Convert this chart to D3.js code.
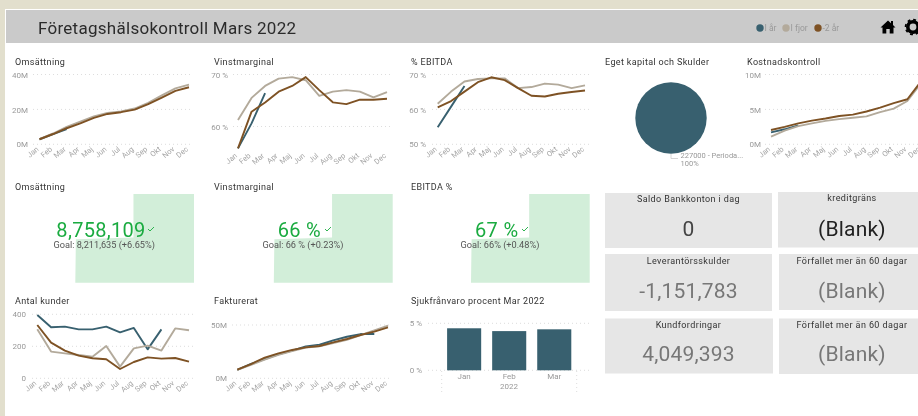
<!DOCTYPE html>
<html>
<head>
<meta charset="utf-8">
<script src="https://d3js.org/d3.v7.min.js"></script>
<style>
    html, body { margin: 0; padding: 0; background: #e2dfcd; overflow: hidden; }
    svg { display: block; filter: blur(0.35px); }
    text { font-family: Roboto, sans-serif; }
    .title { font-size: 9px; fill: #333; letter-spacing: 0.35px; }
    .tick text { font-size: 8px; fill: #999; }
    .xticks .tick text { font-size: 7.5px; fill: #a5a5a5; }
    .grid line { stroke: #ddd; stroke-dasharray: 1 3; }
</style>
</head>
<body>
<svg width="918" height="416"></svg>
<script>
var months = ["Jan", "Feb", "Mar", "Apr", "Maj", "Jun", "Jul", "Aug", "Sep", "Okt", "Nov", "Dec"];

var omsIar = [2.9, 5.8, 8.7];
var omsFjor = [3, 6.2, 10, 13, 16, 18, 18.8, 20.5, 23.8, 28, 32, 34.2];
var oms2ar = [2.9, 5.9, 9.2, 12, 15.1, 17.4, 18.4, 19.9, 23, 26.8, 30.6, 32.7];

var vinstIar = [55.8, 60.6, 66.4];
var vinstFjor = [61.25, 65.5, 67.8, 69.2, 69.5, 68.9, 65.9, 66.7, 67, 66.7, 65.6, 66.6];
var vinst2ar = [55.8, 62.85, 64.6, 66.7, 67.8, 69.5, 67, 64.65, 64.3, 65.15, 65.15, 65.35];

var ebitdaIar = [54.9, 60.8, 66.7];
var ebitdaFjor = [61.6, 65.1, 68, 68.7, 68.9, 68.9, 66.1, 66.4, 67.4, 67.1, 66.1, 66.9];
var ebitda2ar = [60.6, 62.4, 65.1, 67.8, 69.2, 68.4, 66.1, 63.9, 63.7, 64.5, 65, 65.4];

var kostIar = [1.7, 2.15, 2.7];
var kostFjor = [1.1, 1.95, 2.6, 3, 3.35, 3.6, 3.8, 4, 4.6, 5.1, 6.2, 8.75];
var kost2ar = [2.05, 2.5, 3, 3.4, 3.7, 4.05, 4.25, 4.7, 5.25, 5.9, 6.45, 9];

var kunderIar = [396, 319, 323, 306, 306, 323, 287, 315, 181, 306];
var kunderFjor = [306, 167, 156, 146, 135, 202, 73, 187, 204, 173, 312, 300];
var kunder2ar = [333, 223, 173, 142, 125, 119, 58, 102, 131, 123, 127, 104];

var faktIar = [8, 13.5, 18, 22.5, 26, 30, 31.5, 35.5, 39, 41.5, 41.5];
var faktFjor = [8, 12.5, 17.5, 22, 25.5, 28.8, 30, 33, 36, 40.5, 45, 49.5];
var fakt2ar = [8.1, 13.4, 19.4, 23.4, 26.6, 29, 30.3, 33.75, 36.9, 40.6, 43.75, 47.8];

var sjukMonths = ["Jan", "Feb", "Mar"];
var sjukValues = [4.47, 4.17, 4.36];

var pieLabels = ["227000 - Perioda..."];
var pieValues = [100];

// trend shape behind each KPI number, [share of width, share of height]
var kpiTrend = [[0, 0], [0.005, 0.49], [0.49, 0.51], [0.49, 1], [1, 1]];

var colorIar = "#38606f";
var colorFjor = "#b3aa9b";
var color2ar = "#7e5224";

var svg = d3.select("svg");

// background panels
svg.append("rect").attr("x", 5).attr("y", 9).attr("width", 913).attr("height", 407).attr("fill", "#fff");
svg.append("rect").attr("x", 6).attr("y", 10).attr("width", 912).attr("height", 33).attr("fill", "#cacaca");

svg.append("text")
    .attr("x", 38).attr("y", 34)
    .attr("font-size", 17).attr("fill", "#2b2b2b").attr("letter-spacing", 0.27)
    .text("Företagshälsokontroll Mars 2022");

// legend
var legend = [
    {name: "I år", color: colorIar, x: 760},
    {name: "I fjor", color: colorFjor, x: 786},
    {name: "-2 år", color: color2ar, x: 818}
];
var legendItem = svg.append("g").selectAll("g").data(legend).enter().append("g")
    .attr("transform", function(d) { return "translate(" + d.x + ",28)"; });
legendItem.append("circle").attr("r", 3.7).attr("fill", function(d) { return d.color; });
legendItem.append("text")
    .attr("x", 4.5).attr("y", 3).attr("font-size", 8.5).attr("fill", "#999")
    .text(function(d) { return d.name; });

// home and gear icons
svg.append("path")
    .attr("transform", "translate(888,27)")
    .attr("d", "M-7.5,0.5 L0,-6.5 L3,-3.8 L3,-6 L5,-6 L5,-2 L7.5,0.5 L5.5,0.5 L5.5,6.5 L1.7,6.5 L1.7,2 L-1.7,2 L-1.7,6.5 L-5.5,6.5 L-5.5,0.5 Z")
    .attr("fill", "#000");
var gear = svg.append("g").attr("transform", "translate(913,27)");
gear.append("circle").attr("r", 5.2).attr("fill", "none").attr("stroke", "#000").attr("stroke-width", 3.6);
gear.append("circle").attr("r", 7.4).attr("fill", "none").attr("stroke", "#000").attr("stroke-width", 1.8)
    .attr("stroke-dasharray", "2.9 2.9");

function title(x, y, txt) {
    svg.append("text").attr("class", "title").attr("x", x).attr("y", y).text(txt);
}

function lineChart(o) {
    title(o.titleX, o.titleY, o.title);

    var x = d3.scalePoint().domain(months).range(o.xRange);
    var y = d3.scaleLinear().domain(o.domain).range(o.yRange);

    svg.append("g")
        .attr("class", "grid")
        .selectAll("line")
        .data(o.ticks)
        .enter()
        .append("line")
        .attr("x1", o.gridRange[0])
        .attr("x2", o.gridRange[1])
        .attr("y1", function(d) { return y(d); })
        .attr("y2", function(d) { return y(d); });

    var yAxis = d3.axisLeft(y).tickValues(o.ticks).tickSize(0).tickFormat(o.format);
    svg.append("g")
        .attr("transform", "translate(" + o.labelX + ",0)")
        .call(yAxis)
        .call(function(g) { g.select(".domain").remove(); })
        .selectAll("text").attr("x", 0).attr("dy", "0.33em");

    var xAxis = d3.axisBottom(x).tickSize(0);
    svg.append("g")
        .attr("class", "xticks")
        .attr("transform", "translate(0," + o.axisY + ")")
        .call(xAxis)
        .call(function(g) { g.select(".domain").remove(); })
        .selectAll("text")
        .attr("text-anchor", "end")
        .attr("transform", "translate(-2.5,0.5) rotate(-40)")
        .attr("x", 0)
        .attr("y", 0)
        .attr("dy", "0.35em");

    var line = d3.line()
        .x(function(d, i) { return x(months[i]); })
        .y(function(d) { return y(d); });

    [[o.iar, colorIar], [o.fjor, colorFjor], [o.tva, color2ar]].forEach(function(s) {
        svg.append("path")
            .datum(s[0])
            .attr("fill", "none")
            .attr("stroke", s[1])
            .attr("stroke-width", 1.9)
            .attr("stroke-linejoin", "round")
            .attr("d", line);
    });
}

function fmtM(d) { return d + "M"; }
function fmtP(d) { return d + " %"; }

lineChart({title: "Omsättning", titleX: 15, titleY: 65, iar: omsIar, fjor: omsFjor, tva: oms2ar,
    xRange: [39.5, 189], domain: [0, 40], yRange: [144.3, 74.5], ticks: [0, 20, 40], format: fmtM,
    gridRange: [33, 192], labelX: 28, axisY: 147.5});
lineChart({title: "Vinstmarginal", titleX: 214, titleY: 65, iar: vinstIar, fjor: vinstFjor, tva: vinst2ar,
    xRange: [238, 387], domain: [60, 70], yRange: [126.5, 74.5], ticks: [60, 70], format: fmtP,
    gridRange: [233, 390], labelX: 228, axisY: 154});
lineChart({title: "% EBITDA", titleX: 411, titleY: 65, iar: ebitdaIar, fjor: ebitdaFjor, tva: ebitda2ar,
    xRange: [437.7, 585], domain: [50, 70], yRange: [144.3, 74.5], ticks: [50, 60, 70], format: fmtP,
    gridRange: [432, 590], labelX: 426, axisY: 147.5});
lineChart({title: "Kostnadskontroll", titleX: 747, titleY: 65, iar: kostIar, fjor: kostFjor, tva: kost2ar,
    xRange: [771, 921], domain: [0, 10], yRange: [144.3, 74.5], ticks: [0, 5, 10], format: fmtM,
    gridRange: [765, 918], labelX: 761, axisY: 147.5});
lineChart({title: "Antal kunder", titleX: 15, titleY: 304, iar: kunderIar, fjor: kunderFjor, tva: kunder2ar,
    xRange: [37.3, 189], domain: [0, 400], yRange: [378.3, 314.3], ticks: [0, 200, 400], format: function(d) { return d; },
    gridRange: [32, 193], labelX: 26, axisY: 381.5});
lineChart({title: "Fakturerat", titleX: 214, titleY: 304, iar: faktIar, fjor: faktFjor, tva: fakt2ar,
    xRange: [237.3, 388], domain: [0, 50], yRange: [378.3, 325], ticks: [0, 50], format: fmtM,
    gridRange: [232, 390], labelX: 227, axisY: 381.5});

// pie
title(605, 65, "Eget kapital och Skulder");
var pie = d3.pie().sort(null);
var arc = d3.arc().innerRadius(0).outerRadius(35.7);
svg.append("g")
    .attr("transform", "translate(671,118)")
    .selectAll("path")
    .data(pie(pieValues))
    .enter()
    .append("path")
    .attr("d", arc)
    .attr("fill", colorIar);
svg.append("path").attr("d", "M671,154 L671,158.5 L678,158.5").attr("fill", "none").attr("stroke", "#ccc").attr("stroke-width", 0.8);
svg.append("text").attr("x", 680.5).attr("y", 157.5).attr("font-size", 7.5).attr("fill", "#999").text(pieLabels[0]);
svg.append("text").attr("x", 680.5).attr("y", 166).attr("font-size", 7.5).attr("fill", "#999").text(pieValues[0] + "%");

// KPI visuals
var kpis = [
    {title: "Omsättning", titleX: 15, value: "8,758,109", goal: "Goal: 8,211,635 (+6.65%)", x0: 75.3, x1: 194, cx: 101, checkX: 148, goalX: 104.2},
    {title: "Vinstmarginal", titleX: 214, value: "66 %", goal: "Goal: 66 % (+0.23%)", x0: 273.8, x1: 392.7, cx: 299.3, checkX: 325, goalX: 303},
    {title: "EBITDA %", titleX: 411, value: "67 %", goal: "Goal: 66% (+0.48%)", x0: 471, x1: 589.7, cx: 496.7, checkX: 522, goalX: 500}
];
kpis.forEach(function(k) {
    title(k.titleX, 189.5, k.title);
    var tx = d3.scaleLinear().domain([0, 1]).range([k.x0, k.x1]);
    var ty = d3.scaleLinear().domain([0, 1]).range([282.7, 194]);
    var area = d3.area()
        .x(function(d) { return tx(d[0]); })
        .y0(ty(0))
        .y1(function(d) { return ty(d[1]); });
    svg.append("path").datum(kpiTrend).attr("d", area).attr("fill", "#d2eed9");
    svg.append("text")
        .attr("x", k.cx).attr("y", 236.7).attr("text-anchor", "middle")
        .attr("font-size", 20).attr("letter-spacing", 0.3).attr("fill", "#1aab40")
        .text(k.value);
    svg.append("path")
        .attr("d", "M" + k.checkX + ",229 l2,2 l4,-4")
        .attr("fill", "none").attr("stroke", "#1aab40").attr("stroke-width", 0.9);
    svg.append("text")
        .attr("x", k.goalX).attr("y", 248).attr("text-anchor", "middle")
        .attr("font-size", 9.2).attr("fill", "#555")
        .text(k.goal);
});

// bar chart
title(411, 304, "Sjukfrånvaro procent Mar 2022");
var barX = d3.scaleBand().domain(sjukMonths).range([441.7, 576.7]).paddingInner(0.244).paddingOuter(0.12);
var barY = d3.scaleLinear().domain([0, 5]).range([370.3, 323.3]);
svg.append("g")
    .attr("class", "grid")
    .selectAll("line")
    .data([0, 5])
    .enter()
    .append("line")
    .attr("x1", 428).attr("x2", 589)
    .attr("y1", function(d) { return barY(d); })
    .attr("y2", function(d) { return barY(d); });
svg.append("g")
    .attr("transform", "translate(422,0)")
    .call(d3.axisLeft(barY).tickValues([0, 5]).tickSize(0).tickFormat(fmtP))
    .call(function(g) { g.select(".domain").remove(); })
    .selectAll("text").attr("x", 0).attr("dy", "0.33em");
svg.append("g")
    .selectAll("rect")
    .data(sjukValues)
    .enter()
    .append("rect")
    .attr("x", function(d, i) { return barX(sjukMonths[i]); })
    .attr("width", barX.bandwidth())
    .attr("y", function(d) { return barY(d); })
    .attr("height", function(d) { return barY(0) - barY(d); })
    .attr("fill", colorIar);
svg.append("g")
    .attr("transform", "translate(0,370.3)")
    .call(d3.axisBottom(barX).tickSize(0).tickPadding(3))
    .call(function(g) { g.select(".domain").remove(); });
svg.append("text").attr("x", 509).attr("y", 389).attr("text-anchor", "middle").attr("font-size", 8).attr("fill", "#999").text("2022");
svg.append("g").attr("class", "grid").selectAll("line").data([441.7, 576.7]).enter().append("line")
    .attr("x1", function(d) { return d; }).attr("x2", function(d) { return d; })
    .attr("y1", 371).attr("y2", 393);

// cards
var cards = [
    {title: "Saldo Bankkonton i dag", value: "0", x: 605, y: 193, w: 167, h: 55, cx: 688.5, ty: 202, vy: 235.5, color: "#444"},
    {title: "kreditgräns", value: "(Blank)", x: 778, y: 192, w: 140, h: 55.5, cx: 852, ty: 201, vy: 235.5, color: "#222"},
    {title: "Leverantörsskulder", value: "-1,151,783", x: 605, y: 254, w: 167, h: 57, cx: 688.5, ty: 264, vy: 297.5, color: "#777"},
    {title: "Förfallet mer än 60 dagar", value: "(Blank)", x: 779, y: 254, w: 139, h: 56, cx: 852, ty: 264, vy: 297.5, color: "#777"},
    {title: "Kundfordringar", value: "4,049,393", x: 605, y: 318.5, w: 168, h: 55, cx: 688.5, ty: 328, vy: 361, color: "#777"},
    {title: "Förfallet mer än 60 dagar", value: "(Blank)", x: 779, y: 318.5, w: 139, h: 55.5, cx: 852, ty: 328, vy: 361, color: "#777"}
];
var card = svg.append("g").selectAll("g").data(cards).enter().append("g");
card.append("rect")
    .attr("x", function(d) { return d.x; })
    .attr("y", function(d) { return d.y; })
    .attr("width", function(d) { return d.w; })
    .attr("height", function(d) { return d.h; })
    .attr("fill", "#e6e6e6");
card.append("text")
    .attr("x", function(d) { return d.cx; })
    .attr("y", function(d) { return d.ty; })
    .attr("text-anchor", "middle")
    .attr("font-size", 9).attr("letter-spacing", 0.4).attr("fill", "#333")
    .text(function(d) { return d.title; });
card.append("text")
    .attr("x", function(d) { return d.cx; })
    .attr("y", function(d) { return d.vy; })
    .attr("text-anchor", "middle")
    .attr("font-size", 21).attr("letter-spacing", 0.2)
    .attr("fill", function(d) { return d.color; })
    .text(function(d) { return d.value; });
</script>
</body>
</html>
